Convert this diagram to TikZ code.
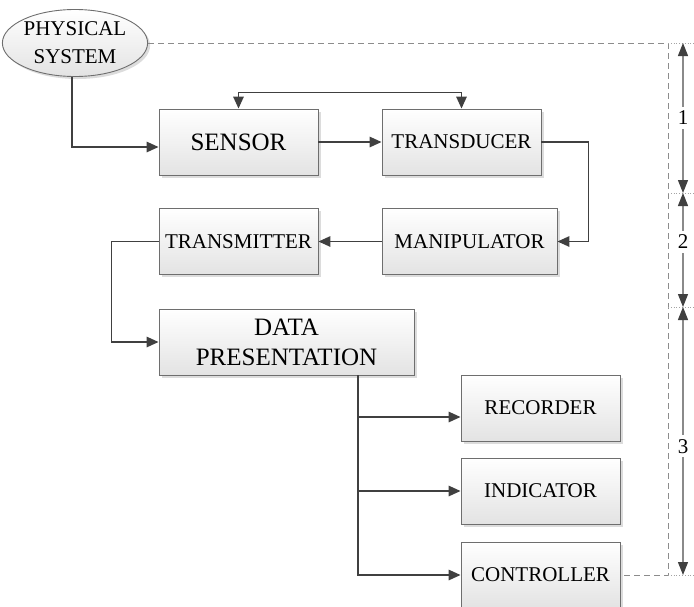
\documentclass[tikz,border=0pt]{standalone}
\usepackage{fontspec}
\setmainfont{Liberation Serif}
\usetikzlibrary{arrows.meta,shapes.geometric,shadows,calc}
\definecolor{linedark}{HTML}{404040}
\definecolor{boxedge}{HTML}{6E6E6E}
\definecolor{dashgray}{HTML}{8C8C8C}
\definecolor{dimgray}{HTML}{8A8A8A}
\begin{document}
\begin{tikzpicture}[x=1pt,y=-1pt,
  shaded/.style={draw=boxedge, line width=0.9pt, top color=white, bottom color=black!11,
    drop shadow={shadow xshift=2.5pt, shadow yshift=-2.5pt, opacity=0.3, fill=black!45},
    inner sep=0pt, align=center, font=\fontsize{21}{26}\selectfont},
  block/.style={shaded, rectangle, minimum width=159pt, minimum height=66pt},
  bigtext/.style={font=\fontsize{25}{30}\selectfont},
  tip/.style={Triangle[length=12pt,width=10.5pt]},
  conn/.style={draw=linedark, line width=1.5pt, -{Triangle[length=12pt,width=10.5pt]}},
  link/.style={draw=dashgray, line width=0.9pt, dash pattern=on 6pt off 4pt},
  extline/.style={draw=dashgray!80, line width=0.8pt, dotted},
  dimline/.style={draw=dimgray, line width=1.2pt,
    {Triangle[length=13pt,width=10pt,color=linedark]}-{Triangle[length=13pt,width=10pt,color=linedark]}},
  dimlabel/.style={fill=white, inner sep=4pt, font=\fontsize{21}{26}\selectfont}]
\useasboundingbox (0,0) rectangle (694,606);

% measurement system blocks
\node[shaded, ellipse, minimum width=136pt, minimum height=67pt, font=\fontsize{21}{28}\selectfont]
  (phys) at (75,43) {PHYSICAL\\SYSTEM};
\node[block, bigtext] (sensor) at (238.5,142) {SENSOR};
\node[block] (trans) at (461.5,142) {TRANSDUCER};
\node[block, minimum width=175pt] (manip) at (469.5,241.5) {MANIPULATOR};
\node[block] (transm) at (238.5,241.5) {TRANSMITTER};
\node[block, bigtext, minimum width=255pt] (data) at (286.5,342) {DATA\\PRESENTATION};
\node[block] (rec) at (540.5,408) {RECORDER};
\node[block] (ind) at (540.5,491) {INDICATOR};
\node[block] (ctrl) at (540.5,575) {CONTROLLER};

% signal flow
\draw[conn] ([xshift=-3pt]phys.south) |- ([yshift=-5pt]sensor.west);
\draw[conn] (sensor.east) -- (sensor.east -| trans.west);
\draw[conn, {Triangle[length=12pt,width=10.5pt]}-{Triangle[length=12pt,width=10.5pt]}]
  (sensor.north) -- ++(0,-16) -| (trans.north);
\draw[conn] (trans.east) -- ++(47,0) |- (manip.east);
\draw[conn] (manip.west) -- (transm.east);
\draw[conn] (transm.west) -- ++(-47,0) |- (data.west);
\coordinate (trunk) at ([xshift=71.5pt]data.south);
\draw[conn] (trunk) |- ([yshift=-9pt]rec.west);
\draw[conn] (trunk) |- (ind.west);
\draw[conn] (trunk) |- (ctrl.west);

% stage boundaries
\coordinate (c1) at (668,43);
\coordinate (c4) at (668,575);
\draw[link] (phys.east) -- (c1) -- (c4) -- (ctrl.east);
\coordinate (m1) at (683,43);
\coordinate (m2) at (683,193);
\coordinate (m3) at (683,307);
\coordinate (m4) at (683,575);
\foreach \m in {m1,m2,m3,m4}
  \draw[extline] (\m -| c1) -- ++(26,0);
\draw[dimline] (m1) -- (m2) node[dimlabel, pos=0.5] (l1) {1};
\draw[dimline] (m2) -- (m3) node[dimlabel, pos=0.43] (l2) {2};
\draw[dimline] (m3) -- (m4) node[dimlabel, pos=0.52] (l3) {3};
\end{tikzpicture}
\end{document}
